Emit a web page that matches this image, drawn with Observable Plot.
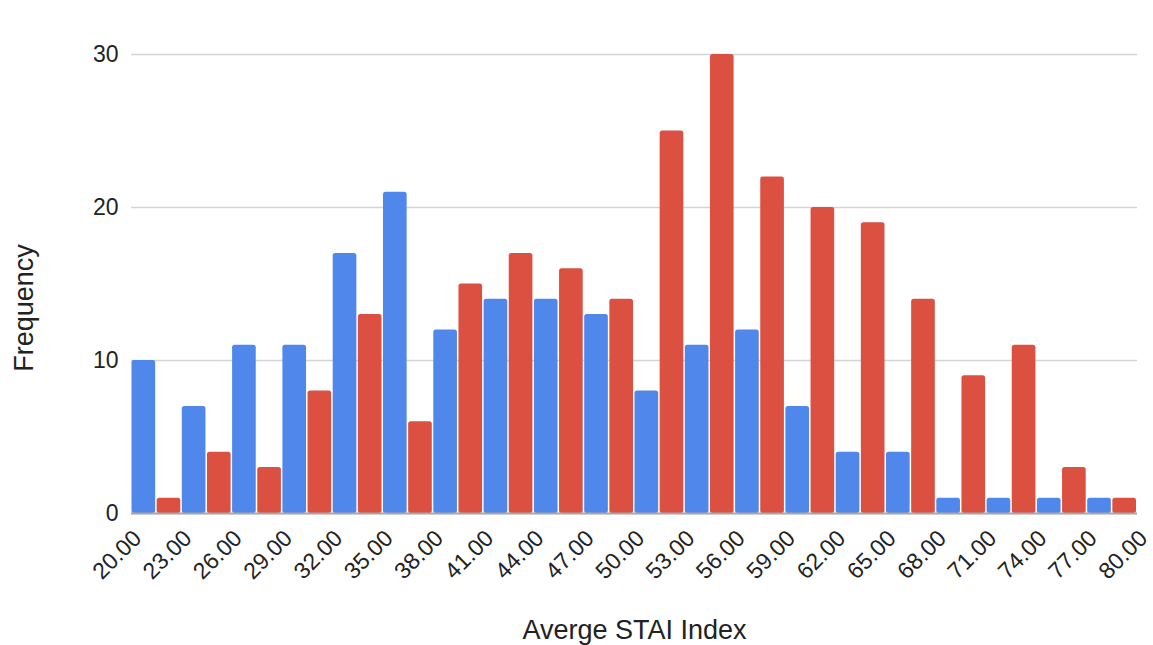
<!DOCTYPE html>
<html><head><meta charset="utf-8">
<script src="https://cdn.jsdelivr.net/npm/d3@7"></script>
<script src="https://cdn.jsdelivr.net/npm/@observablehq/plot@0.6"></script>
<style>body{margin:0;background:#fff;} svg{display:block}</style>
</head><body><div id="chart"></div>
<script>
// Bin starts (bucket size 3)
const binStarts = [20,23,26,29,32,35,38,41,44,47,50,53,56,59,62,65,68,71,74,77];
const bucketSize = 3;
// Series counts per bin
const seriesA = [10,7,11,11,17,21,12,14,14,13,8,11,12,7,4,4,1,1,1,1];
const seriesB = [1,4,3,8,13,6,15,17,16,14,25,30,22,20,19,14,9,11,3,1];
const seriesNames = ["A","B"];
const seriesColors = ["#4f87ea","#db5040"];
const xTicks = [20,23,26,29,32,35,38,41,44,47,50,53,56,59,62,65,68,71,74,77,80];
const yTicks = [0,10,20,30];
const xLabel = "Averge STAI Index";
const yLabel = "Frequency";

const half = bucketSize / seriesNames.length;
const data = binStarts.flatMap((b, i) => [seriesA[i], seriesB[i]].map((v, k) => ({
  x1: b + k * half, x2: b + (k + 1) * half, y: v, s: seriesNames[k]
})));

const font = "'Liberation Sans', Arial, Helvetica, sans-serif";
const chart = Plot.plot({
  width: 1153, height: 645,
  marginLeft: 131, marginRight: 16, marginTop: 54, marginBottom: 132,
  style: {fontFamily: font, fontSize: "22px", color: "#222", background: "#fff", overflow: "visible"},
  x: {domain: [20, 80]},
  y: {domain: [0, 30]},
  color: {domain: seriesNames, range: seriesColors},
  marks: [
    Plot.gridY(yTicks, {stroke: "#d4d4d4", strokeOpacity: 1, strokeWidth: 1.5}),
    Plot.rectY(data, {x1: "x1", x2: "x2", y: "y", fill: "s", insetLeft: 0.5, insetRight: 1, rx: 2.5}),
    Plot.ruleY([0], {stroke: "#a8a8a8", strokeWidth: 2}),
    Plot.axisY(yTicks, {tickSize: 0, tickPadding: 13, label: null, fontSize: "23px"}),
    Plot.axisX(xTicks, {tickSize: 0, tickPadding: 21, dx: 6, tickRotate: -45, tickFormat: d => d.toFixed(2), label: null, fontSize: "23px"}),
    Plot.text([xLabel], {frameAnchor: "bottom", dy: 117, fontSize: 27, fill: "#222", lineAnchor: "middle"}),
    Plot.text([yLabel], {frameAnchor: "left", textAnchor: "middle", dx: -107, dy: 24, rotate: -90, fontSize: 27, fill: "#222", lineAnchor: "middle"})
  ]
});
document.getElementById("chart").append(chart);
</script>
</body></html>
